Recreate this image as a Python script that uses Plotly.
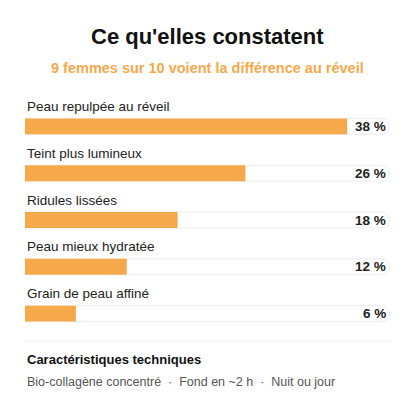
import plotly.graph_objects as go

labels = ["Peau repulpée au réveil", "Teint plus lumineux", "Ridules lissées", "Peau mieux hydratée", "Grain de peau affiné"]
values = [38, 26, 18, 12, 6]
track_max = 43
pos = list(range(len(labels)))

O = 8  # page body offset
W = H = 408

fig = go.Figure()
fig.add_trace(go.Bar(x=[track_max]*len(values), y=pos, orientation="h", width=0.34,
                     marker=dict(color="#ffffff", line=dict(color="#ececec", width=1), cornerradius="50%"),
                     hoverinfo="skip"))
fig.add_trace(go.Bar(x=values, y=pos, orientation="h", width=0.34,
                     marker=dict(color="#F5A94A", line=dict(width=0), cornerradius="50%")))

top, bot = 103 - O, 337 - O
def py(yy):
    return (bot - (yy - O)) / (bot - top)

ann = []
for p, lab, v in zip(pos, labels, values):
    ann.append(dict(x=0, y=p, xref="x", yref="y", text=lab, showarrow=False, xanchor="left",
                    yanchor="middle", yshift=20, font=dict(size=13.5, color="#222", family="Liberation Sans")))
    ann.append(dict(x=track_max, y=p, xref="x", yref="y", text=f"<b>{v} %</b>", showarrow=False,
                    xanchor="right", yanchor="middle", xshift=-2,
                    font=dict(size=13.5, color="#222", family="Liberation Sans")))
ann += [
    dict(x=0.5, y=py(37), xref="paper", yref="paper", text="<b>Ce qu'elles constatent</b>", showarrow=False,
         yanchor="middle", font=dict(size=22, color="#111", family="Liberation Sans")),
    dict(x=0.5, y=py(68), xref="paper", yref="paper", text="<b>9 femmes sur 10 voient la différence au réveil</b>",
         showarrow=False, yanchor="middle", font=dict(size=14.5, color="#F5A94A", family="Liberation Sans")),
    dict(x=0, y=py(359), xref="paper", yref="paper", text="<b>Caractéristiques techniques</b>", showarrow=False,
         xanchor="left", yanchor="middle", font=dict(size=13, color="#111", family="Liberation Sans")),
    dict(x=0, y=py(382), xref="paper", yref="paper",
         text="Bio-collagène concentré  ·  Fond en ~2 h  ·  Nuit ou jour", showarrow=False,
         xanchor="left", yanchor="middle", font=dict(size=12.5, color="#555", family="Liberation Sans")),
]

fig.update_layout(
    width=W, height=H, margin=dict(l=25 - O, r=W - (390 - O), t=top, b=H - bot),
    paper_bgcolor="white", plot_bgcolor="white", barmode="overlay", showlegend=False,
    xaxis=dict(range=[0, track_max + 0.05], visible=False),
    yaxis=dict(range=[4.5, -0.5], visible=False),
    annotations=ann,
    shapes=[dict(type="line", xref="paper", yref="paper", x0=0, x1=1.005, y0=py(341), y1=py(341),
                 line=dict(color="#eeeeee", width=1))],
)
fig.write_html("out.html")
